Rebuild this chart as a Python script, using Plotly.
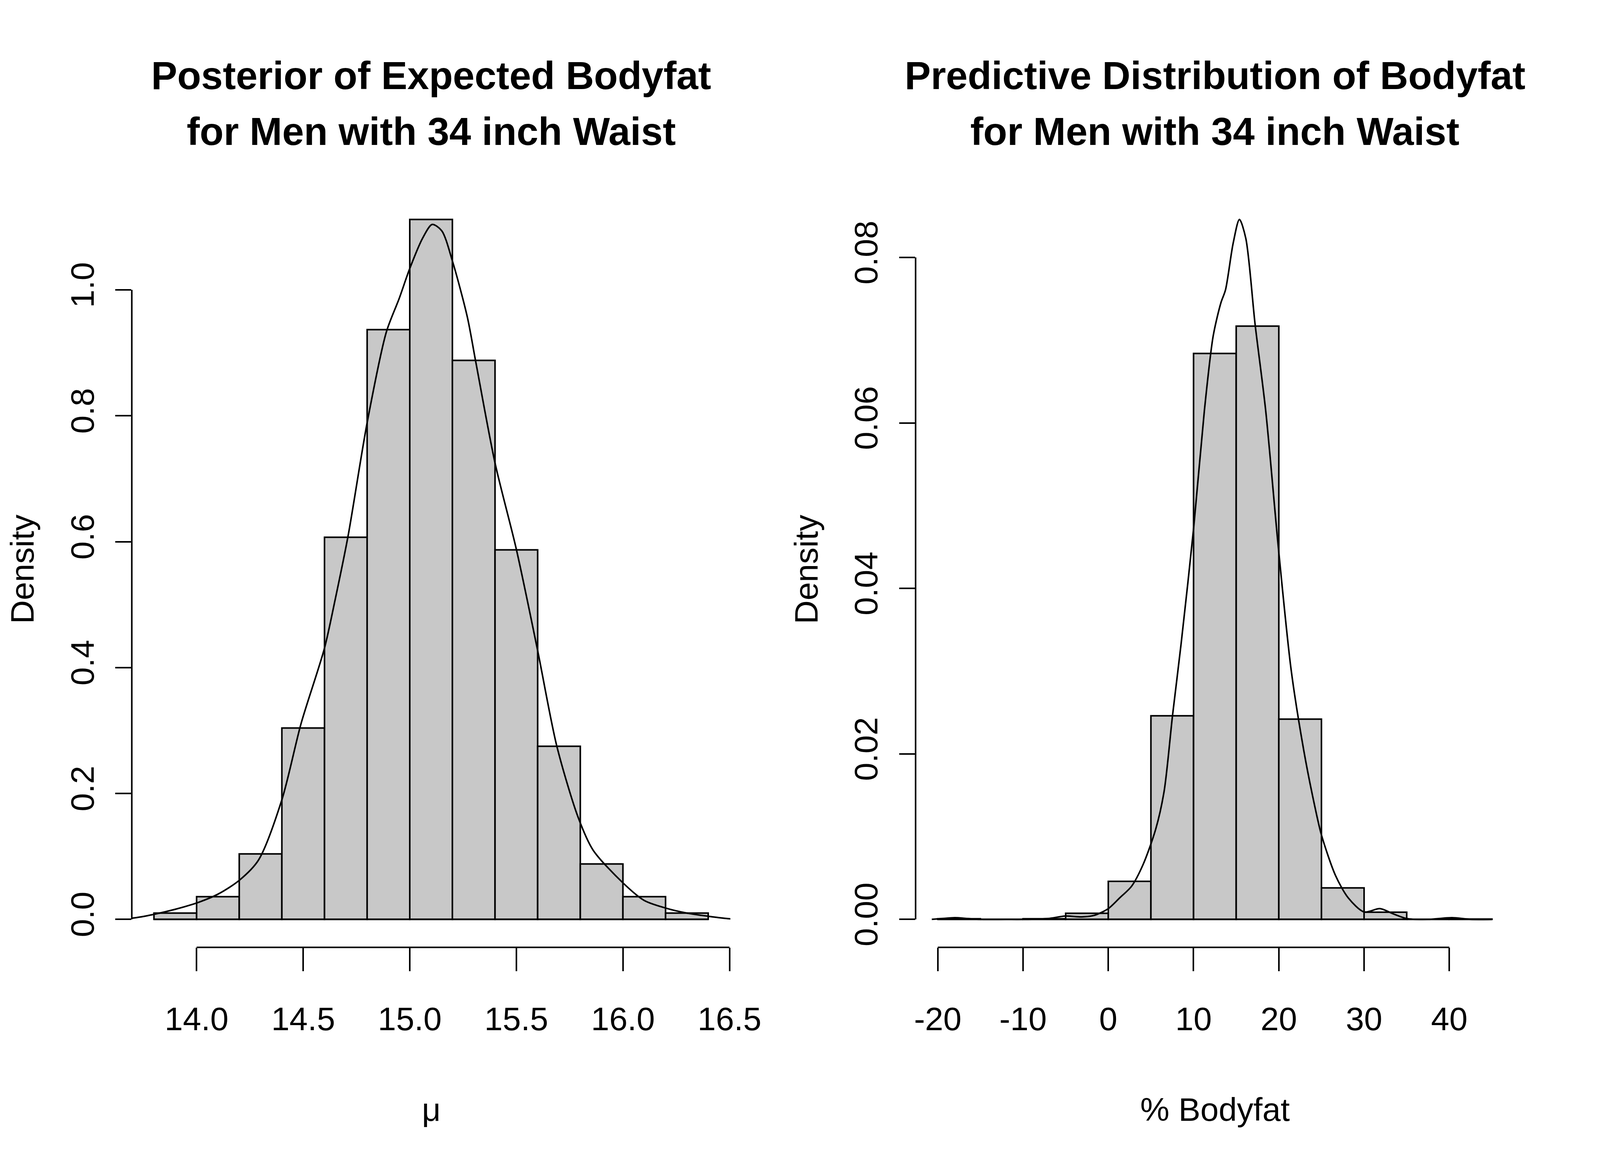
import plotly.graph_objects as go

# The browser viewport is 4096x3000, so the figure fills it; geometry is taken from the
# 6000x3000 reference and converted to paper fractions.
W, H = 4096, 3000
REF_W, REF_H = 6000, 3000
SX = W / REF_W
FONT = "Liberation Sans"

# ---------------- Left panel: posterior of mu ----------------
mu_breaks = [13.8, 14.0, 14.2, 14.4, 14.6, 14.8, 15.0, 15.2, 15.4, 15.6, 15.8, 16.0, 16.2, 16.4]
mu_density = [0.010, 0.036, 0.104, 0.304, 0.607, 0.937, 1.112, 0.888, 0.587, 0.275, 0.088, 0.036, 0.010]
mu_kde_x = [13.60, 13.70, 13.80, 13.90, 14.00, 14.10, 14.20, 14.29, 14.40, 14.49, 14.60, 14.65, 14.71,
            14.80, 14.89, 14.95, 15.00, 15.06, 15.105, 15.15, 15.20, 15.27, 15.31, 15.40, 15.50,
            15.60, 15.69, 15.79, 15.86, 16.00, 16.10, 16.20, 16.30, 16.40, 16.50, 16.60]
mu_kde_y = [0.000, 0.002, 0.008, 0.016, 0.026, 0.040, 0.062, 0.094, 0.190, 0.311, 0.431, 0.508, 0.608,
            0.789, 0.933, 0.986, 1.034, 1.082, 1.104, 1.094, 1.046, 0.957, 0.885, 0.725, 0.588,
            0.427, 0.275, 0.162, 0.110, 0.058, 0.030, 0.018, 0.010, 0.005, 0.001, 0.000]
mu_xticks = [14.0, 14.5, 15.0, 15.5, 16.0, 16.5]
mu_xticklabels = ["14.0", "14.5", "15.0", "15.5", "16.0", "16.5"]
mu_yticks = [0.0, 0.2, 0.4, 0.6, 0.8, 1.0]
mu_yticklabels = ["0.0", "0.2", "0.4", "0.6", "0.8", "1.0"]

# ---------------- Right panel: predictive distribution ----------------
bf_breaks = [-20, -15, -10, -5, 0, 5, 10, 15, 20, 25, 30, 35, 40, 45]
bf_density = [0.00008, 0.0, 0.00008, 0.00074, 0.0046, 0.0246, 0.0684, 0.0717, 0.0242, 0.0038, 0.00086, 0.0, 0.00004]
bf_kde_x = [-20.7, -19.5, -18.0, -16.5, -15.0, -12.0, -10.0, -7.1, -5.0, -3.1, -1.6, 0.0, 1.34, 2.73,
            4.07, 5.56, 6.55, 7.54, 8.54, 10.02, 11.27, 12.3, 13.2, 13.75, 14.64, 15.38, 16.13,
            17.22, 18.46, 19.95, 21.44, 22.93, 24.17, 25.0, 26.65, 28.14, 30.0, 31.86, 33.35,
            35.0, 37.5, 40.3, 42.5, 45.0]
bf_kde_y = [0.0, 0.0001, 0.0002, 0.0001, 0.0, 0.0, 0.0, 0.0001, 0.0004, 0.0003, 0.0005, 0.0013, 0.0026, 0.0040,
            0.0066, 0.0109, 0.0155, 0.0247, 0.0333, 0.0474, 0.0615, 0.0705, 0.0745, 0.0761, 0.0817, 0.0846, 0.0823,
            0.0719, 0.0615, 0.0449, 0.0302, 0.0204, 0.0139, 0.0102, 0.0053, 0.0026, 0.0009, 0.0013, 0.0007,
            0.0001, 0.0, 0.0002, 0.0, 0.0]
bf_xticks = [-20, -10, 0, 10, 20, 30, 40]
bf_xticklabels = ["-20", "-10", "0", "10", "20", "30", "40"]
bf_yticks = [0.00, 0.02, 0.04, 0.06, 0.08]
bf_yticklabels = ["0.00", "0.02", "0.04", "0.06", "0.08"]

titles_left = ["Posterior of Expected Bodyfat", "for Men with 34 inch Waist"]
titles_right = ["Predictive Distribution of Bodyfat", "for Men with 34 inch Waist"]
xlab_left = "\u03bc"
xlab_right = "% Bodyfat"
ylab = "Density"

# ---------------- layout geometry (reference pixels) ----------------
PLOT_TOP, PLOT_BOTTOM = 490, 2425
PANELS = [(500, 2791), (3500, 5791)]
TITLE_Y = [193, 336]
XLAB_Y = 2840
YLAB_OFFSET = 420
LW = 4
FILL = "#C8C8C8"
TICK_FS = 84
TITLE_FS = 100


def r_range(lo, hi):
    d = (hi - lo) * 0.04
    return [lo - d, hi + d]


fig = go.Figure()

panels = [
    dict(breaks=mu_breaks, dens=mu_density, kx=mu_kde_x, ky=mu_kde_y,
         xt=mu_xticks, xtl=mu_xticklabels, yt=mu_yticks, ytl=mu_yticklabels,
         titles=titles_left, xlab=xlab_left),
    dict(breaks=bf_breaks, dens=bf_density, kx=bf_kde_x, ky=bf_kde_y,
         xt=bf_xticks, xtl=bf_xticklabels, yt=bf_yticks, ytl=bf_yticklabels,
         titles=titles_right, xlab=xlab_right),
]

annotations = []
shapes = []
for i, p in enumerate(panels):
    xa = "x" if i == 0 else "x2"
    ya = "y" if i == 0 else "y2"
    br = p["breaks"]
    centers = [(br[k] + br[k + 1]) / 2 for k in range(len(br) - 1)]
    widths = [br[k + 1] - br[k] for k in range(len(br) - 1)]
    fig.add_trace(go.Scatter(x=[br[0], br[-1]], y=[0, 0], mode="lines",
                             line=dict(color="black", width=LW), xaxis=xa, yaxis=ya,
                             showlegend=False, hoverinfo="skip"))
    fig.add_trace(go.Bar(x=centers, y=p["dens"], width=widths,
                         marker=dict(color=FILL, line=dict(color="black", width=LW)),
                         xaxis=xa, yaxis=ya, showlegend=False))
    fig.add_trace(go.Scatter(x=p["kx"], y=p["ky"], mode="lines",
                             line=dict(color="black", width=LW, shape="spline", smoothing=0.8),
                             xaxis=xa, yaxis=ya, showlegend=False))

    x0px, x1px = PANELS[i]
    xdom = [x0px / REF_W, x1px / REF_W]
    ydom = [1 - PLOT_BOTTOM / REF_H, 1 - PLOT_TOP / REF_H]
    ymax = max(max(p["dens"]), max(p["ky"]))
    common = dict(showgrid=False, zeroline=False, showline=False, ticks="outside",
                  tickwidth=LW, tickcolor="black",
                  tickfont=dict(family=FONT, size=TICK_FS, color="black"))
    fig.update_layout(**{
        ("xaxis" if i == 0 else "xaxis2"): dict(domain=xdom, range=r_range(br[0], br[-1]),
                                               tickmode="array", tickvals=p["xt"], ticktext=p["xtl"],
                                               anchor=ya, ticklen=60, ticklabelstandoff=50, **common),
        ("yaxis" if i == 0 else "yaxis2"): dict(domain=ydom, range=r_range(0, ymax),
                                               tickmode="array", tickvals=p["yt"], ticktext=p["ytl"],
                                               anchor=xa, tickangle=-90, ticklen=round(60 * SX),
                                               ticklabelstandoff=22, **common),
    })
    shapes.append(dict(type="line", xref=xa, yref=ya + " domain", x0=p["xt"][0], x1=p["xt"][-1],
                       y0=0, y1=0, line=dict(color="black", width=LW)))
    shapes.append(dict(type="line", xref=xa + " domain", yref=ya, x0=0, x1=0,
                       y0=p["yt"][0], y1=p["yt"][-1], line=dict(color="black", width=LW)))

    cx = (x0px + x1px) / 2 / REF_W
    for j, t in enumerate(p["titles"]):
        annotations.append(dict(text="<b>" + t + "</b>", x=cx, y=1 - TITLE_Y[j] / REF_H,
                                xref="paper", yref="paper", showarrow=False,
                                xanchor="center", yanchor="middle",
                                font=dict(family=FONT, size=TITLE_FS, color="black")))
    annotations.append(dict(text=p["xlab"], x=cx, y=1 - XLAB_Y / REF_H, xref="paper", yref="paper",
                            showarrow=False, xanchor="center", yanchor="middle",
                            font=dict(family=FONT, size=TICK_FS, color="black")))
    annotations.append(dict(text=ylab, x=(x0px - YLAB_OFFSET) / REF_W,
                            y=1 - (PLOT_TOP + PLOT_BOTTOM) / 2 / REF_H,
                            xref="paper", yref="paper", showarrow=False, textangle=-90,
                            xanchor="center", yanchor="middle",
                            font=dict(family=FONT, size=TICK_FS, color="black")))

fig.update_layout(width=W, height=H, margin=dict(l=0, r=0, t=0, b=0),
                  paper_bgcolor="white", plot_bgcolor="white",
                  barmode="overlay", showlegend=False,
                  annotations=annotations, shapes=shapes,
                  font=dict(family=FONT, color="black"))

fig.write_html("out.html", config={"displayModeBar": False},
               post_script="document.body.style.margin='0px';")
